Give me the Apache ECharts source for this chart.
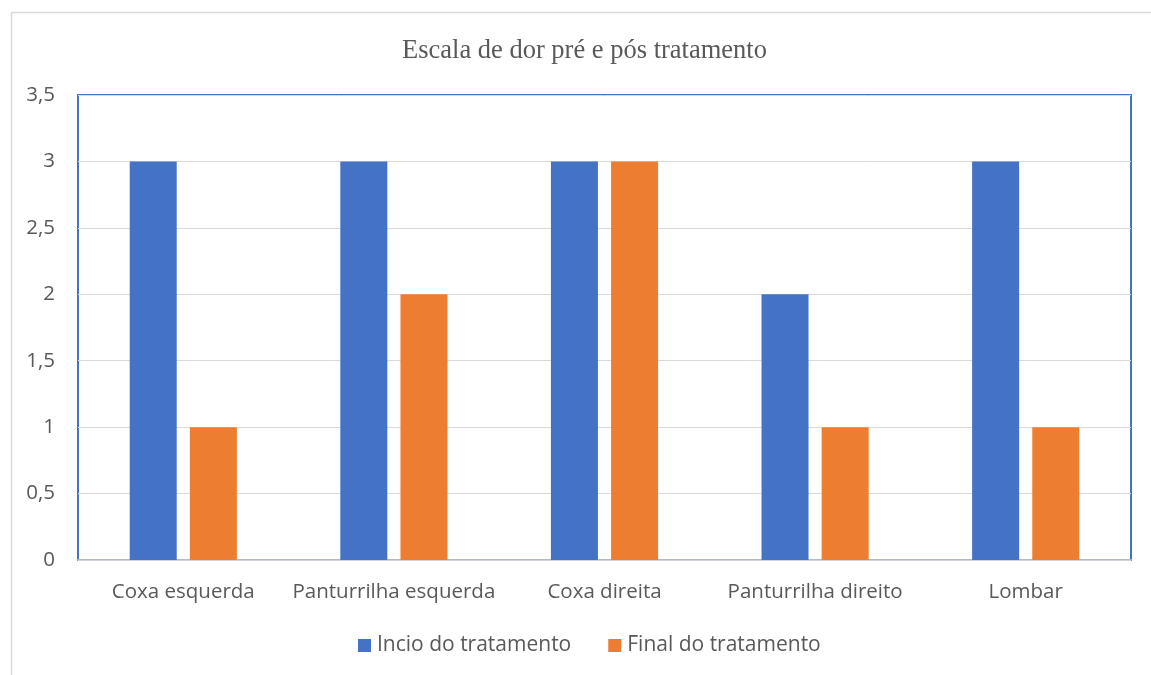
<!DOCTYPE html>
<html><head><meta charset="utf-8">
<script src="https://cdn.jsdelivr.net/npm/echarts@6/dist/echarts.min.js"></script>
<style>html,body{margin:0;padding:0;background:#fff}#c{width:1151px;height:675px}</style>
</head><body><div id="c"></div>
<script>
const categories = ["Coxa esquerda", "Panturrilha esquerda", "Coxa direita", "Panturrilha direito", "Lombar"];
const seriesNames = ["Incio do tratamento", "Final do tratamento"];
const inicio = [3, 3, 3, 2, 3];
const final = [1, 2, 3, 1, 1];
const titleText = "Escala de dor pré e pós tratamento";

const chart = echarts.init(document.getElementById('c'));
const fmt = v => String(v).replace('.', ',');
chart.setOption({
  animation: false,
  graphic: [{ type: 'rect', left: 9, top: 10, shape: { width: 1200, height: 700 }, style: { fill: 'none', stroke: '#D9D9D9', lineWidth: 1.5 }, z: -1 }],
  title: { text: titleText, left: 397, top: 33, textStyle: { fontFamily: 'Liberation Serif', fontSize: 26.5, fontWeight: 'normal', color: '#595959' } },
  legend: { bottom: 14, left: 353, itemWidth: 13, itemHeight: 13, itemGap: 37, icon: 'rect',
    textStyle: { fontFamily: 'Open Sans', fontSize: 21, color: '#595959', padding: [0, 0, 0, 1] } },
  grid: { left: 78, right: 20, top: 95, bottom: 115, show: true, borderColor: '#4472C4', borderWidth: 2, backgroundColor: 'transparent' },
  xAxis: { type: 'category', data: categories,
    axisLine: { lineStyle: { color: '#D0D4DC', width: 1.5 } }, axisTick: { show: false },
    axisLabel: { fontFamily: 'Open Sans', fontSize: 20.5, color: '#595959', margin: 22, interval: 0 } },
  yAxis: { type: 'value', min: 0, max: 3.5, interval: 0.5,
    splitLine: { lineStyle: { color: '#D9D9D9', width: 1 } },
    axisLabel: { fontFamily: 'Open Sans', fontSize: 20.5, color: '#595959', margin: 23, formatter: fmt } },
  series: [
    { name: seriesNames[0], type: 'bar', data: inicio, barWidth: 47, barGap: '28%', itemStyle: { color: '#4472C4' } },
    { name: seriesNames[1], type: 'bar', data: final, barWidth: 47, itemStyle: { color: '#ED7D31' } }
  ]
});
</script></body></html>
